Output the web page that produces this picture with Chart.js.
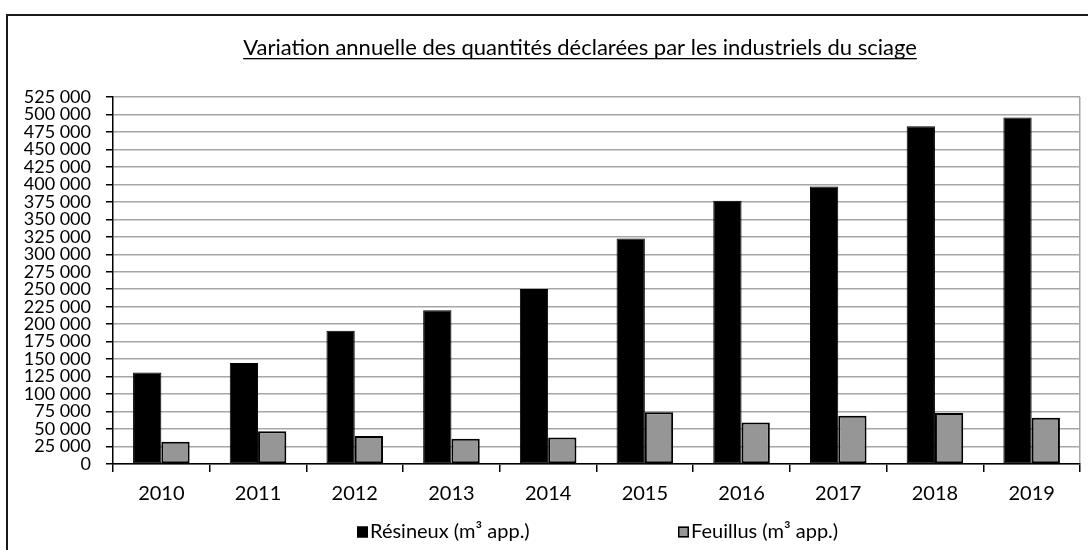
<!DOCTYPE html>
<html lang="fr">
<head>
<meta charset="utf-8">
<title>Sciage</title>
<script src="https://cdn.jsdelivr.net/npm/chart.js@4.4.1/dist/chart.umd.min.js"></script>
<style>
   html, body { margin: 0; padding: 0; background: #fff; }
   #cadre {
      position: absolute; left: 6px; top: 14px; width: 1100px; height: 560px;
      border-left: 2px solid #1a1a1a; border-top: 2px solid #1a1a1a;
   }
   #graph { position: absolute; left: 0; top: 0; }
</style>
</head>
<body>
<div id="cadre"></div>
<canvas id="graph" width="1088" height="550"></canvas>
<script>
const titre = 'Variation annuelle des quantités déclarées par les industriels du sciage';
const annees = ['2010', '2011', '2012', '2013', '2014', '2015', '2016', '2017', '2018', '2019'];
const resineux = [131000, 144500, 190500, 220000, 250500, 322500, 376500, 397000, 483000, 495500];
const feuillus = [32000, 47000, 40000, 36000, 38000, 74000, 59500, 69000, 73000, 66000];
const legendes = ['Résineux (m³ app.)', 'Feuillus (m³ app.)'];

const police = 'Lato';

// 525000 -> "525 000"
function fmt(v) {
   return String(v).replace(/\B(?=(\d{3})+(?!\d))/g, ' ');
}

// Titre souligné
const titrePlugin = {
   id: 'titre',
   afterDraw(chart) {
      const c = chart.ctx;
      c.save();
      c.font = '22px ' + police;
      c.fillStyle = '#000';
      c.textAlign = 'center';
      c.textBaseline = 'alphabetic';
      c.fillText(titre, 580, 55);
      const w = c.measureText(titre).width;
      c.fillRect(580 - w / 2, 58, w, 1.3);
      c.restore();
   }
};

// Légende façon Excel, items écartés
const legendePlugin = {
   id: 'legende',
   afterDraw(chart) {
      const c = chart.ctx;
      const xs = [357, 678];
      c.save();
      c.font = '20px ' + police;
      c.textBaseline = 'middle';
      chart.data.datasets.forEach((ds, i) => {
         const x = xs[i], y = 532;
         c.fillStyle = ds.backgroundColor;
         c.fillRect(x, y - 5.5, 11, 11);
         c.lineWidth = 1.5;
         c.strokeStyle = '#000';
         c.strokeRect(x + 0.75, y - 4.75, 9.5, 9.5);
         c.fillStyle = '#000';
         c.fillText(ds.label, x + 13, y);
      });
      c.restore();
   }
};

new Chart(document.getElementById('graph'), {
   type: 'bar',
   data: {
      labels: annees,
      datasets: [
         {
            label: legendes[0],
            data: resineux,
            backgroundColor: '#000000',
            borderColor: '#000000',
            borderWidth: 1,
            borderSkipped: false
         },
         {
            label: legendes[1],
            data: feuillus,
            backgroundColor: '#969696',
            borderColor: '#000000',
            borderWidth: 2,
            borderSkipped: false
         }
      ]
   },
   options: {
      responsive: false,
      animation: false,
      layout: { padding: { left: 10, right: 8, top: 97, bottom: 0 } },
      datasets: { bar: { categoryPercentage: 0.585, barPercentage: 1 } },
      plugins: {
         legend: { display: false },
         title: { display: false },
         tooltip: { enabled: false }
      },
      scales: {
         x: {
            grid: {
               offset: true,
               // seule la dernière ligne (bord droit) est visible
               color: (c) => c.type === 'tick' ? 'rgba(0,0,0,0)' : '#a6a6a6',
               lineWidth: 1.5,
               tickColor: '#000',
               tickLength: 8
            },
            border: { color: '#000', width: 1.5 },
            ticks: { color: '#000', font: { family: police, size: 20 }, padding: 10 },
            afterFit: (s) => { s.height = 86; }
         },
         y: {
            min: 0,
            max: 525000,
            grid: { color: '#a6a6a6', lineWidth: 1.5, tickColor: '#000', tickLength: 7 },
            border: { color: '#000', width: 1.5 },
            ticks: {
               stepSize: 25000,
               autoSkip: false,
               color: '#000',
               font: { family: police, size: 18 },
               padding: 15,
               callback: fmt
            },
            afterFit: (s) => { s.width = 103; }
         }
      }
   },
   plugins: [titrePlugin, legendePlugin]
});
</script>
</body>
</html>
